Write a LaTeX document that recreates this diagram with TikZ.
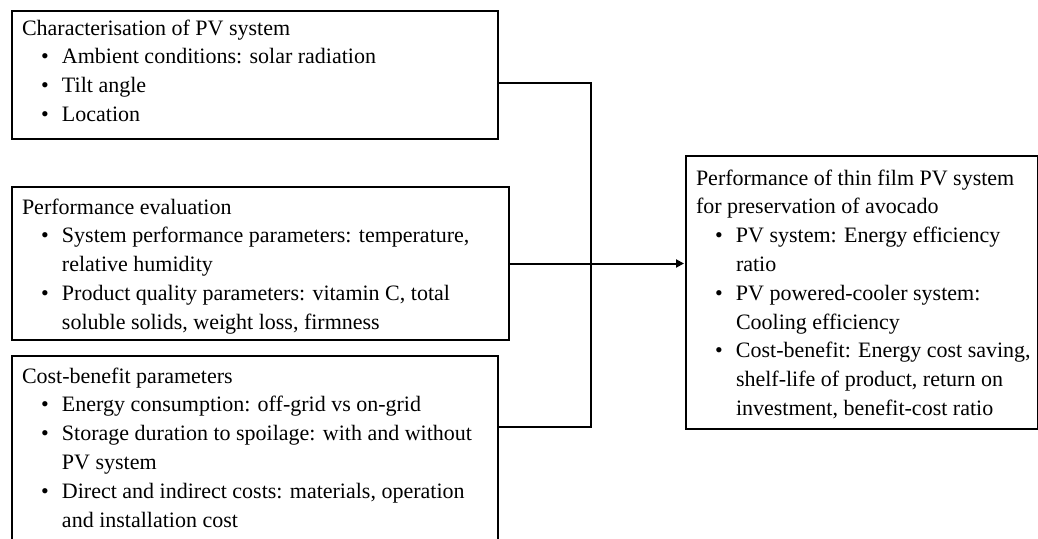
\documentclass[tikz,border=0pt]{standalone}
\usepackage{fontspec}
\setmainfont{Liberation Serif}
\usetikzlibrary{arrows.meta}

\newcommand{\bxcontent}[4]{% width, height, first baseline offset, lines
  \vbox to #2{\hsize=#1\parindent=0pt\baselineskip=28.8pt\lineskiplimit=-100pt
    \fontsize{22pt}{28.8pt}\selectfont
    \hbox to \hsize{\vrule height #3 width 0pt depth 0pt\hss}\vskip-\baselineskip
    #4\vss}}
\newcommand{\Lt}[1]{\hbox to \hsize{\hskip10pt #1\hss}}
\newcommand{\Lb}[1]{\hbox to \hsize{\hskip29pt\makebox[21pt][l]{\textbullet}#1\hss}}
\newcommand{\Lc}[1]{\hbox to \hsize{\hskip50pt #1\hss}}

\tikzset{
  box/.style={draw, line width=2pt, inner sep=0pt, anchor=north west},
  conn/.style={draw, line width=2pt},
}

\begin{document}
\begin{tikzpicture}[x=1pt,y=-1pt]
\useasboundingbox (0,0) rectangle (1038,538);

\node[box] (b1) at (11,10) {\bxcontent{486pt}{128pt}{24pt}{%
  \Lt{Characterisation of PV system}
  \Lb{Ambient conditions: solar radiation}
  \Lb{Tilt angle}
  \Lb{Location}}};

\node[box] (b2) at (11,186) {\bxcontent{497pt}{153pt}{27pt}{%
  \Lt{Performance evaluation}
  \Lb{System performance parameters: temperature,}
  \Lc{relative humidity}
  \Lb{Product quality parameters: vitamin C, total}
  \Lc{soluble solids, weight loss, firmness}}};

\node[box] (b3) at (11,355) {\bxcontent{486pt}{200pt}{27pt}{%
  \Lt{Cost-benefit parameters}
  \Lb{Energy consumption: off-grid vs on-grid}
  \Lb{Storage duration to spoilage: with and without}
  \Lc{PV system}
  \Lb{Direct and indirect costs: materials, operation}
  \Lc{and installation cost}}};

\node[box] (b4) at (685,155) {\bxcontent{352pt}{273pt}{29pt}{%
  \Lt{Performance of thin film PV system}
  \Lt{for preservation of avocado}
  \Lb{PV system: Energy efficiency}
  \Lc{ratio}
  \Lb{PV powered-cooler system:}
  \Lc{Cooling efficiency}
  \Lb{Cost-benefit: Energy cost saving,}
  \Lc{shelf-life of product, return on}
  \Lc{investment, benefit-cost ratio}}};

\coordinate (j1) at (591,83);
\coordinate (j3) at (591,427);
\draw[conn] (b1.east |- j1) -- (j1) -- (j3) -- (b3.east |- j3);
\draw[conn, -{Triangle[length=8pt,width=8pt]}, shorten >=1pt] (b2.east) -- (b4.west |- b2.east);
\end{tikzpicture}
\end{document}
